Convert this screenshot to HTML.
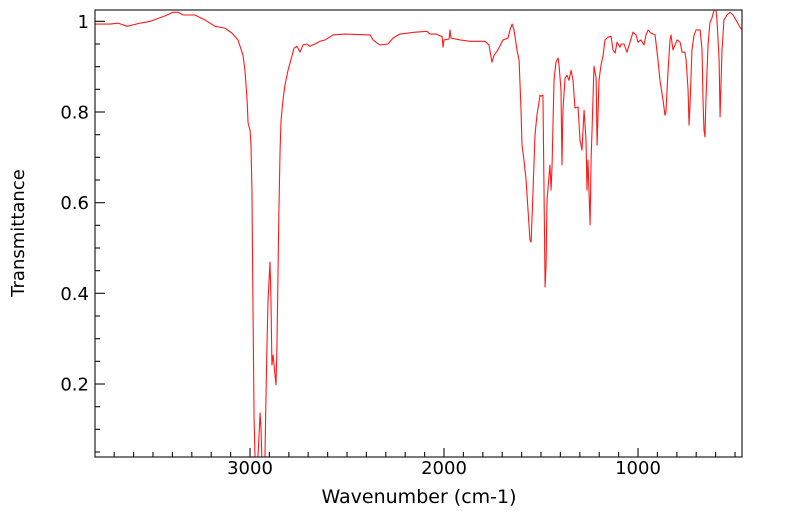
<!DOCTYPE html>
<html><head><meta charset="utf-8"><style>
html,body{margin:0;padding:0;background:#fff;}
svg{display:block;font-family:"DejaVu Sans","Liberation Sans",sans-serif;}
</style></head><body>
<svg id="chart" width="799" height="516" viewBox="0 0 799 516" xmlns="http://www.w3.org/2000/svg">
<defs><clipPath id="clip"><rect x="95" y="10" width="647" height="447"/></clipPath></defs>
<rect x="0" y="0" width="799" height="516" fill="#fff"/>
<g id="series" clip-path="url(#clip)"></g>
<g id="axes"></g>
<rect x="95" y="10" width="647" height="447" fill="none" stroke="#222" stroke-width="1.2"/>
<text x="419" y="503" font-size="19" text-anchor="middle" fill="#000">Wavenumber (cm-1)</text>
<text transform="translate(24,233) rotate(-90)" font-size="18" text-anchor="middle" fill="#000">Transmittance</text>
</svg>
<script>
const wavenumbers=[3799,3722,3680,3634,3567,3515,3438,3397,3371,3345,3284,3232,3180,3129,3093,3062,3036,3026,3015,3010,3000,2995,2990,2985,2979,2974,2969,2964,2959,2948,2943,2938,2928,2923,2918,2912,2907,2897,2892,2887,2881,2876,2866,2861,2851,2845,2840,2830,2820,2804,2783,2773,2758,2742,2727,2706,2691,2665,2639,2613,2572,2510,2381,2366,2345,2330,2289,2263,2227,2149,2088,2072,2041,2015,2010,2005,2000,1974,1969,1964,1917,1866,1789,1768,1753,1742,1722,1696,1670,1660,1649,1639,1624,1613,1603,1598,1588,1577,1567,1557,1551,1541,1531,1521,1505,1500,1490,1479,1474,1469,1454,1448,1443,1433,1423,1412,1407,1397,1392,1387,1376,1366,1356,1345,1335,1325,1309,1299,1289,1278,1268,1263,1258,1247,1242,1237,1227,1216,1211,1201,1191,1180,1170,1155,1139,1129,1118,1108,1093,1087,1072,1057,1041,1026,1010,1000,985,969,959,948,933,912,897,887,871,861,856,845,835,830,820,809,799,783,773,758,752,742,737,732,722,711,701,680,670,665,660,655,650,639,629,619,608,598,593,582,577,567,557,541,526,510,495,474,464];
const transmittance=[0.994,0.994,0.996,0.989,0.996,1.000,1.012,1.020,1.020,1.014,1.014,1.003,0.989,0.985,0.974,0.959,0.925,0.892,0.826,0.776,0.760,0.727,0.628,0.385,0.121,0.039,0.02,0.02,0.039,0.136,0.099,0.02,0.02,0.039,0.165,0.297,0.385,0.469,0.385,0.242,0.264,0.242,0.198,0.286,0.584,0.716,0.782,0.827,0.859,0.892,0.925,0.941,0.945,0.932,0.948,0.950,0.945,0.950,0.956,0.959,0.970,0.972,0.970,0.959,0.952,0.948,0.950,0.963,0.972,0.976,0.978,0.972,0.972,0.967,0.967,0.943,0.959,0.961,0.981,0.963,0.959,0.956,0.956,0.948,0.910,0.925,0.937,0.959,0.963,0.981,0.994,0.981,0.937,0.914,0.804,0.727,0.694,0.650,0.584,0.518,0.513,0.628,0.749,0.793,0.837,0.835,0.837,0.414,0.462,0.606,0.683,0.628,0.683,0.870,0.910,0.919,0.903,0.848,0.683,0.804,0.875,0.881,0.870,0.892,0.870,0.809,0.811,0.738,0.716,0.804,0.738,0.628,0.694,0.551,0.694,0.760,0.901,0.875,0.727,0.870,0.903,0.925,0.959,0.965,0.967,0.937,0.930,0.954,0.943,0.950,0.950,0.932,0.954,0.976,0.970,0.954,0.959,0.948,0.970,0.981,0.974,0.970,0.914,0.870,0.826,0.793,0.800,0.892,0.959,0.970,0.937,0.948,0.959,0.954,0.932,0.932,0.914,0.848,0.771,0.815,0.937,0.970,0.981,0.981,0.937,0.826,0.760,0.745,0.826,0.948,0.998,1.007,1.025,1.025,1.003,0.914,0.789,0.937,1.003,1.014,1.020,1.014,1.003,0.987,0.981];
const xMajorTicks=[3000,2000,1000];
const xMajorLabels=["3000","2000","1000"];
const yMajorTicks=[0.2,0.4,0.6,0.8,1];
const yMajorLabels=["0.2","0.4","0.6","0.8","1"];
const xDomain=[3799,464];
const yDomain=[0.039,1.025];

const L=95,R=742,T=10,B=457;
const NS="http://www.w3.org/2000/svg";
function xs(w){return L+(xDomain[0]-w)/(xDomain[0]-xDomain[1])*(R-L);}
function ys(t){return B-(t-yDomain[0])/(yDomain[1]-yDomain[0])*(B-T);}
function mk(tag,attrs){const e=document.createElementNS(NS,tag);for(const k in attrs)e.setAttribute(k,attrs[k]);return e;}

const series=document.getElementById('series');
let d='';
for(let i=0;i<wavenumbers.length;i++){d+=(i?'L':'M')+xs(wavenumbers[i]).toFixed(2)+' '+ys(transmittance[i]).toFixed(2);}
const line=mk('path',{d:d,fill:'none',stroke:'#ff1a1a','stroke-width':'1.1','stroke-linejoin':'round'});


series.appendChild(line);

const axes=document.getElementById('axes');
for(let w=3700;w>=500;w-=100){
  const major=xMajorTicks.indexOf(w)>=0;
  const x=xs(w);
  const t=mk('line',{x1:x,x2:x,y1:B,y2:B-(major?9:5),stroke:'#222','stroke-width':'1.2'});
  
  
  axes.appendChild(t);
}
xMajorTicks.forEach((w,i)=>{
  const tx=mk('text',{x:xs(w),y:B+17,'font-size':'18','text-anchor':'middle',fill:'#000'});
  tx.textContent=xMajorLabels[i];
  
  
  axes.appendChild(tx);
});
for(let k=1;k<=20;k++){
  const v=k*0.05;
  const major=Math.abs(v*5-Math.round(v*5))<1e-6;
  const y=ys(v);
  const t=mk('line',{x1:L,x2:L+(major?10:5),y1:y,y2:y,stroke:'#222','stroke-width':'1.2'});
  
  
  axes.appendChild(t);
}
yMajorTicks.forEach((v,i)=>{
  const tx=mk('text',{x:L-6,y:ys(v)+6.5,'font-size':'18','text-anchor':'end',fill:'#000'});
  tx.textContent=yMajorLabels[i];
  
  
  axes.appendChild(tx);
});
</script>
</body></html>
